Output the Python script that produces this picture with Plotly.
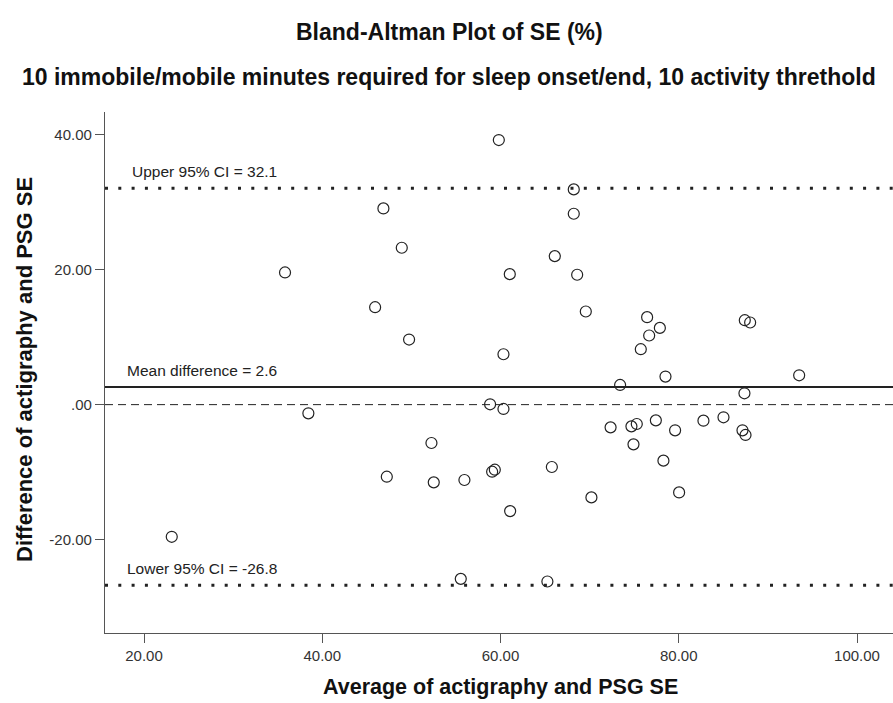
import plotly.graph_objects as go

avg_se = [35.82, 46.86, 48.92, 45.93, 49.74,
          59.81, 68.22, 68.22, 66.09, 61.04, 68.60, 69.57, 76.45, 77.88, 76.68,
          75.74, 87.41, 88.01, 60.33, 78.51, 93.51, 73.42, 87.37, 58.83, 60.33,
          38.44, 52.25, 47.24, 52.51, 23.11,
          72.35, 74.69, 75.29, 77.43, 79.59, 82.77, 85.02, 87.15, 87.49, 74.92,
          78.28, 59.06, 59.36, 55.95, 65.76, 70.20, 80.04, 61.08, 55.54, 65.26]
diff_se = [19.6, 29.1, 23.27, 14.45, 9.65,
           39.24, 31.92, 28.31, 22.02, 19.35, 19.26, 13.81, 12.97, 11.38, 10.25,
           8.22, 12.52, 12.18, 7.47, 4.16, 4.35, 2.92, 1.68, 0.05, -0.64,
           -1.29, -5.69, -10.69, -11.53, -19.6,
           -3.37, -3.22, -2.87, -2.33, -3.81, -2.38, -1.88, -3.81, -4.5, -5.89,
           -8.31, -9.95, -9.65, -11.18, -9.25, -13.76, -13.02, -15.79, -25.84, -26.23]

mean_diff = 2.6
upper_ci = 32.1
lower_ci = -26.8
zero_ref = 0.0

x_ticks = [20, 40, 60, 80, 100]
x_tick_labels = ["20.00", "40.00", "60.00", "80.00", "100.00"]
y_ticks = [-20, 0, 20, 40]
y_tick_labels = ["-20.00", ".00", "20.00", "40.00"]

FONT = "Liberation Sans, Arial, sans-serif"
ML, MT, MB, MR = 105, 112, 70, 0
W, H = 893, 703
PLOT_H = H - MT - MB
PLOT_W = W - ML - MR


def px_x(p):
    return (p - ML) / PLOT_W


def px_y(p):
    return 1 - (p - MT) / PLOT_H


fig = go.Figure()
fig.add_trace(go.Scatter(
    x=avg_se, y=diff_se, mode="markers",
    marker=dict(symbol="circle-open", size=11, color="#222222",
                line=dict(width=1.2, color="#222222")),
    showlegend=False, hoverinfo="x+y"))

# reference lines
fig.add_shape(type="line", xref="paper", yref="y", x0=0, x1=1, y0=upper_ci, y1=upper_ci,
              line=dict(color="#222222", width=3, dash="3px,10.3px"))
fig.add_shape(type="line", xref="paper", yref="y", x0=0, x1=1, y0=lower_ci, y1=lower_ci,
              line=dict(color="#222222", width=3, dash="3px,10.3px"))
fig.add_shape(type="line", xref="paper", yref="y", x0=0, x1=1, y0=mean_diff, y1=mean_diff,
              line=dict(color="#222222", width=2))
fig.add_shape(type="line", xref="paper", yref="y", x0=0, x1=1, y0=zero_ref, y1=zero_ref,
              line=dict(color="#222222", width=1, dash="8px,5px"))

labels = [("Upper 95% CI = {:.1f}".format(upper_ci), upper_ci),
          ("Mean difference = {:.1f}".format(mean_diff), mean_diff),
          ("Lower 95% CI = {:.1f}".format(lower_ci), lower_ci)]
lefts = [133, 128, 128]
for (txt, yv), lx in zip(labels, lefts):
    fig.add_annotation(x=px_x(lx), xref="paper", y=yv, yref="y", text=txt,
                       showarrow=False, xanchor="left", yanchor="bottom", yshift=6,
                       xshift=-3,
                       font=dict(family=FONT, size=15.5, color="#222222"))

fig.add_annotation(text="<b>Bland-Altman Plot of SE (%)</b>", xref="paper", yref="paper",
                   x=px_x(449), y=px_y(32), yanchor="middle", xanchor="center", showarrow=False,
                   font=dict(family=FONT, size=23, color="#111111"))
fig.add_annotation(text="<b>10 immobile/mobile minutes required for sleep onset/end, 10 activity threthold</b>",
                   xref="paper", yref="paper",
                   x=px_x(449), y=px_y(77), yanchor="middle", xanchor="center", showarrow=False,
                   font=dict(family=FONT, size=23, color="#111111"))
fig.add_annotation(text="<b>Average of actigraphy and PSG SE</b>", xref="paper", yref="paper",
                   x=px_x(500), y=px_y(687), yanchor="middle", xanchor="center", showarrow=False,
                   font=dict(family=FONT, size=21.5, color="#111111"))
fig.add_annotation(text="<b>Difference of actigraphy and PSG SE</b>", xref="paper", yref="paper",
                   x=px_x(24), y=px_y(370), yanchor="middle", xanchor="center", showarrow=False,
                   textangle=-90,
                   font=dict(family=FONT, size=22, color="#111111"))

fig.update_layout(
    width=W, height=H,
    margin=dict(l=ML, r=MR, t=MT, b=MB, autoexpand=False),
    plot_bgcolor="white", paper_bgcolor="white",
    font=dict(family=FONT, color="#222222"),
)

fig.update_xaxes(range=[15.62, 104.04], tickvals=x_ticks, ticktext=x_tick_labels,
                 showgrid=False, zeroline=False, showline=True, linecolor="#555555", linewidth=1.3,
                 ticks="outside", ticklen=9, tickcolor="#555555", tickwidth=1.3,
                 tickfont=dict(family=FONT, size=15, color="#333333"), automargin=False)
fig.update_yaxes(range=[-33.87, 43.4], tickvals=y_ticks, ticktext=y_tick_labels,
                 showgrid=False, zeroline=False, showline=True, linecolor="#555555", linewidth=1.3,
                 ticks="outside", ticklen=9, tickcolor="#555555", tickwidth=1.3,
                 tickfont=dict(family=FONT, size=15, color="#333333"), automargin=False)

fig.write_html("out.html", config={"displayModeBar": False},
               post_script="document.body.style.margin='0px';document.body.style.overflow='hidden';")
